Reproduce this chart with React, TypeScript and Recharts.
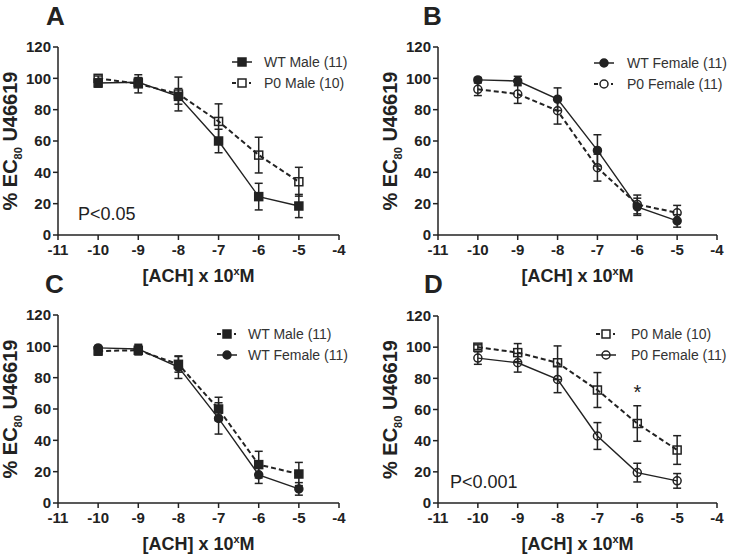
import { LineChart, Line, XAxis, YAxis, ErrorBar, ReferenceDot } from 'recharts';

const DOSES = [-10, -9, -8, -7, -6, -5];
const X_TICKS = [-11, -10, -9, -8, -7, -6, -5, -4];
const Y_TICKS = [0, 20, 40, 60, 80, 100, 120];

// mean % EC80 U46619 and SEM per dose
const WT_MALE = [97, 97.5, 88.5, 60, 24.5, 18.5];
const WT_MALE_SEM = [2.6, 3, 5, 7.5, 8.5, 7.4];
const P0_MALE = [100, 96.5, 90, 72.5, 51, 34];
const P0_MALE_SEM = [1.5, 5.8, 10.8, 11.2, 11.4, 9.2];
const WT_FEMALE = [99, 98.3, 86.7, 54, 18, 9];
const WT_FEMALE_SEM = [1.5, 3, 7.2, 10, 5.5, 4];
const P0_FEMALE = [93, 90, 79.3, 43, 19.5, 14.2];
const P0_FEMALE_SEM = [4, 6, 8.5, 8.6, 6, 4.7];

const INK = '#222';
const FONT = '"Liberation Sans", Arial, sans-serif';

const rows = DOSES.map((x, i) => ({
  x,
  wtMale: WT_MALE[i],
  wtMaleErr: WT_MALE_SEM[i],
  p0Male: P0_MALE[i],
  p0MaleErr: P0_MALE_SEM[i],
  wtFemale: WT_FEMALE[i],
  wtFemaleErr: WT_FEMALE_SEM[i],
  p0Female: P0_FEMALE[i],
  p0FemaleErr: P0_FEMALE_SEM[i],
}));

type Series = {
  key: string;
  label: string;
  shape: 'square' | 'circle';
  filled: boolean;
  dashed: boolean;
};

const WT_M = { key: 'wtMale', label: 'WT Male (11)', shape: 'square', filled: true } as const;
const P0_M = { key: 'p0Male', label: 'P0 Male (10)', shape: 'square', filled: false } as const;
const WT_F = { key: 'wtFemale', label: 'WT Female (11)', shape: 'circle', filled: true } as const;
const P0_F = { key: 'p0Female', label: 'P0 Female (11)', shape: 'circle', filled: false } as const;

type Panel = {
  letter: string;
  left: number;
  top: number;
  width: number;
  axisW: number;
  right: number;
  marginTop: number;
  series: Series[];
  legend: { x: number; y: number; textX: number };
  letterPos: [number, number];
  note?: { text: string; x: number; y: number };
  star?: boolean;
};

const PANELS: Panel[] = [
  {
    letter: 'A', left: 0, top: 0, width: 365, axisW: 58, right: 26, marginTop: 47,
    series: [{ ...WT_M, dashed: false }, { ...P0_M, dashed: true }],
    legend: { x: 242, y: 62, textX: 264 },
    letterPos: [46, 25],
    note: { text: 'P<0.05', x: 78, y: 220 },
  },
  {
    letter: 'B', left: 365, top: 0, width: 366, axisW: 73, right: 14, marginTop: 47,
    series: [{ ...WT_F, dashed: false }, { ...P0_F, dashed: true }],
    legend: { x: 604, y: 63, textX: 627 },
    letterPos: [423, 25],
  },
  {
    letter: 'C', left: 0, top: 268, width: 365, axisW: 58, right: 26, marginTop: 47,
    series: [{ ...WT_M, dashed: true }, { ...WT_F, dashed: false }],
    legend: { x: 227, y: 334, textX: 248 },
    letterPos: [45, 293],
  },
  {
    letter: 'D', left: 365, top: 268, width: 366, axisW: 73, right: 14, marginTop: 48,
    series: [{ ...P0_M, dashed: true }, { ...P0_F, dashed: false }],
    legend: { x: 606, y: 334, textX: 631 },
    letterPos: [424, 293],
    note: { text: 'P<0.001', x: 450, y: 488 },
    star: true,
  },
];

function Marker({ cx, cy, shape, filled }: { cx?: number; cy?: number; shape: string; filled: boolean }) {
  if (cx == null || cy == null) return null;
  const fill = filled ? INK : 'none';
  if (shape === 'square') {
    return <rect x={cx - 4} y={cy - 4} width={8} height={8} fill={fill} stroke={INK} strokeWidth={1.5} />;
  }
  return <circle cx={cx} cy={cy} r={4} fill={fill} stroke={INK} strokeWidth={1.5} />;
}

function LegendRow({ s, x, y, textX }: { s: Series; x: number; y: number; textX: number }) {
  return (
    <g>
      {s.dashed ? (
        <>
          <line x1={x - 10} x2={x - 6} y1={y} y2={y} stroke={INK} strokeWidth={2} />
          <line x1={x + 7} x2={x + 9} y1={y} y2={y} stroke={INK} strokeWidth={2} />
        </>
      ) : (
        <line x1={x - 10} x2={x + 10} y1={y} y2={y} stroke={INK} strokeWidth={1.5} />
      )}
      <Marker cx={x} cy={y} shape={s.shape} filled={s.filled} />
      <text x={textX} y={y + 5} fontSize={14} fill="#333">
        {s.label}
      </text>
    </g>
  );
}

function PanelChart({ p }: { p: Panel }) {
  return (
    <div style={{ position: 'absolute', left: p.left, top: p.top }}>
      <LineChart
        width={p.width}
        height={280}
        data={rows}
        margin={{ top: p.marginTop, right: p.right, left: 0, bottom: 15 }}
        style={{ fontFamily: FONT }}
      >
        <XAxis
          dataKey="x"
          type="number"
          domain={[-11, -4]}
          ticks={X_TICKS}
          interval={0}
          height={30}
          tickSize={5}
          tickMargin={4}
          axisLine={{ stroke: INK, strokeWidth: 1.5 }}
          tickLine={{ stroke: INK, strokeWidth: 1.5 }}
          tick={{ fill: INK, fontSize: 15, fontWeight: 700 }}
        />
        <YAxis
          type="number"
          domain={[0, 120]}
          ticks={Y_TICKS}
          interval={0}
          width={p.axisW}
          tickSize={5}
          axisLine={{ stroke: INK, strokeWidth: 1.5 }}
          tickLine={{ stroke: INK, strokeWidth: 1.5 }}
          tick={{ fill: INK, fontSize: 15, fontWeight: 700 }}
        />
        {p.series.map((s) => (
          <Line
            key={s.key}
            dataKey={s.key}
            type="linear"
            stroke={INK}
            strokeWidth={s.dashed ? 2 : 1.4}
            strokeDasharray={s.dashed ? '5 3' : undefined}
            dot={(d: any) => (
              <Marker key={`${s.key}-${d.index}`} cx={d.cx} cy={d.cy} shape={s.shape} filled={s.filled} />
            )}
            activeDot={false}
            isAnimationActive={false}
          >
            <ErrorBar
              dataKey={`${s.key}Err`}
              direction="y"
              width={4}
              stroke={INK}
              strokeWidth={1.5}
              isAnimationActive={false}
            />
          </Line>
        ))}
        {p.star && (
          <ReferenceDot
            x={-6}
            y={73}
            r={0}
            shape={(d: any) => (
              <text x={d.cx} y={d.cy + 10} textAnchor="middle" fontSize={20} fill={INK} fontFamily={FONT}>
                *
              </text>
            )}
          />
        )}
      </LineChart>
    </div>
  );
}

export default function App() {
  return (
    <div
      style={{
        position: 'absolute',
        left: 0,
        top: 0,
        width: 731,
        height: 557,
        background: '#fff',
        fontFamily: FONT,
        overflow: 'hidden',
      }}
    >
      {PANELS.map((p) => (
        <PanelChart key={p.letter} p={p} />
      ))}
      <svg
        width={731}
        height={557}
        style={{ position: 'absolute', left: 0, top: 0, pointerEvents: 'none' }}
        fontFamily={FONT}
      >
        {PANELS.map((p) => {
          const plotLeft = p.left + p.axisW;
          const plotRight = p.left + p.width - p.right;
          const plotTop = p.top + p.marginTop;
          const plotBottom = p.top + 235;
          const cxLabel = (plotLeft + plotRight) / 2;
          const cyLabel = (plotTop + plotBottom) / 2;
          const yLabelX = plotLeft - 41;
          return (
            <g key={p.letter}>
              <text x={p.letterPos[0]} y={p.letterPos[1]} fontSize={26} fontWeight={700} fill={INK}>
                {p.letter}
              </text>
              <text x={cxLabel} y={plotBottom + 47} textAnchor="middle" fontSize={18} fontWeight={700} fill={INK}>
                [ACH] x 10
                <tspan fontSize={11} dy={-7}>x</tspan>
                <tspan dy={7}>M</tspan>
              </text>
              <text
                x={yLabelX}
                y={cyLabel}
                transform={`rotate(-90 ${yLabelX} ${cyLabel})`}
                textAnchor="middle"
                fontSize={20}
                fontWeight={700}
                fill={INK}
              >
                % EC
                <tspan fontSize={11} dy={5}>80</tspan>
                <tspan dy={-5}> U46619</tspan>
              </text>
              {p.series.map((s, i) => (
                <LegendRow key={s.key} s={s} x={p.legend.x} y={p.legend.y + i * 21} textX={p.legend.textX} />
              ))}
              {p.note && (
                <text x={p.note.x} y={p.note.y} fontSize={18} fill={INK}>
                  {p.note.text}
                </text>
              )}
            </g>
          );
        })}
      </svg>
    </div>
  );
}
